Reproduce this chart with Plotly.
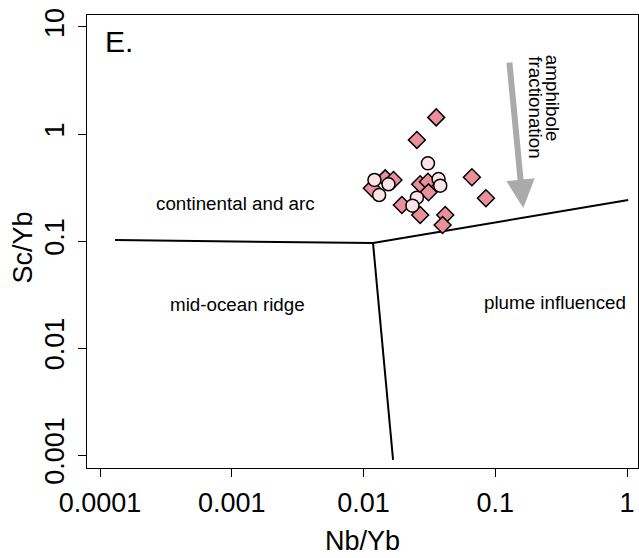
import plotly.graph_objects as go

# Data
diamond_nb = [0.0356, 0.0254, 0.0664, 0.0849, 0.01156, 0.0146, 0.01687, 0.0269,
              0.0308, 0.0311, 0.01954, 0.0269, 0.0417, 0.0398]
diamond_sc = [1.43, 0.88, 0.394, 0.251, 0.311, 0.385, 0.372, 0.339,
              0.358, 0.285, 0.217, 0.175, 0.175, 0.141]
circle_nb = [0.0308, 0.0121, 0.01546, 0.01313, 0.0371, 0.0382, 0.0254, 0.0235]
circle_sc = [0.532, 0.372, 0.339, 0.269, 0.379, 0.329, 0.254, 0.214]

# Discrimination boundaries
arc_line_nb = [0.00013, 0.0118]
arc_line_sc = [0.102, 0.0957]
plume_line_nb = [0.0118, 1.02]
plume_line_sc = [0.0957, 0.2415]
morb_line_nb = [0.0118, 0.01675]
morb_line_sc = [0.0957, 0.0009]

x_ticks = [0.0001, 0.001, 0.01, 0.1, 1]
x_tick_text = ["0.0001", "0.001", "0.01", "0.1", "1"]
y_ticks = [0.001, 0.01, 0.1, 1, 10]
y_tick_text = ["0.001", "0.01", "0.1", "1", "10"]

FONT = "Liberation Sans, Arial, Helvetica, sans-serif"
line_style = dict(color="black", width=2)

fig = go.Figure()
for xs, ys in [(arc_line_nb, arc_line_sc), (plume_line_nb, plume_line_sc),
               (morb_line_nb, morb_line_sc)]:
    fig.add_trace(go.Scatter(x=xs, y=ys, mode="lines", line=line_style,
                             showlegend=False, hoverinfo="skip"))

fig.add_trace(go.Scatter(
    x=diamond_nb, y=diamond_sc, mode="markers", showlegend=False,
    marker=dict(symbol="diamond", size=13, color="#EB8F9D",
                line=dict(color="black", width=1.5))))
fig.add_trace(go.Scatter(
    x=circle_nb, y=circle_sc, mode="markers", showlegend=False,
    marker=dict(symbol="circle", size=13, color="#FCE4E6",
                line=dict(color="black", width=1.5))))

lab_font = dict(family=FONT, size=18.8, color="black")
annotations = [
    dict(x=-2.971, y=-0.654, text="continental and arc"),
    dict(x=-2.956, y=-1.589, text="mid-ocean ridge"),
    dict(x=-0.545, y=-1.577, text="plume influenced"),
    dict(x=-0.560, y=0.335, text="amphibole", textangle=90),
    dict(x=-0.697, y=0.247, text="fractionation", textangle=90),
]
for a in annotations:
    fig.add_annotation(xref="x", yref="y", showarrow=False, font=lab_font,
                       xanchor="center", yanchor="middle", **a)

# "E." panel label
fig.add_annotation(xref="x", yref="y", x=-3.977, y=0.86, text="E.",
                   showarrow=False, xanchor="left", yanchor="middle",
                   font=dict(family=FONT, size=30, color="black"))

# amphibole fractionation arrow
fig.add_annotation(xref="x", yref="y", axref="x", ayref="y",
                   x=-0.788, y=-0.692, ax=-0.894, ay=0.682, text="",
                   showarrow=True, arrowhead=2, arrowsize=0.95, arrowwidth=6,
                   arrowcolor="#AAAAAA", standoff=0)

# Axis titles
title_font = dict(family=FONT, size=27, color="black")
fig.add_annotation(xref="paper", yref="paper", x=0.5, y=0, yshift=-89,
                   text="Nb/Yb", showarrow=False, font=title_font,
                   xanchor="center", yanchor="bottom", borderpad=0)
fig.add_annotation(xref="paper", yref="paper", x=0, y=0.5, xshift=-65,
                   text="Sc/Yb", showarrow=False, font=title_font, textangle=-90,
                   xanchor="center", yanchor="middle", yshift=-6)

axis_common = dict(type="log", showgrid=False, zeroline=False, showline=True,
                   linecolor="black", linewidth=1, mirror=True, ticks="outside",
                   ticklen=8, tickwidth=1, tickcolor="black",
                   tickfont=dict(family=FONT, size=27, color="black"))
fig.update_xaxes(range=[-4.099, 0.083], tickvals=x_ticks, ticktext=x_tick_text,
                 ticklabelstandoff=3, **axis_common)
fig.update_yaxes(range=[-3.121, 1.112], tickvals=y_ticks, ticktext=y_tick_text,
                 tickangle=-90, ticklabelstandoff=3, **axis_common)

fig.update_layout(width=639, height=558, plot_bgcolor="white",
                  paper_bgcolor="white",
                  margin=dict(l=87, r=1, t=15, b=90, pad=0),
                  font=dict(family=FONT))
fig.write_html("out.html")
